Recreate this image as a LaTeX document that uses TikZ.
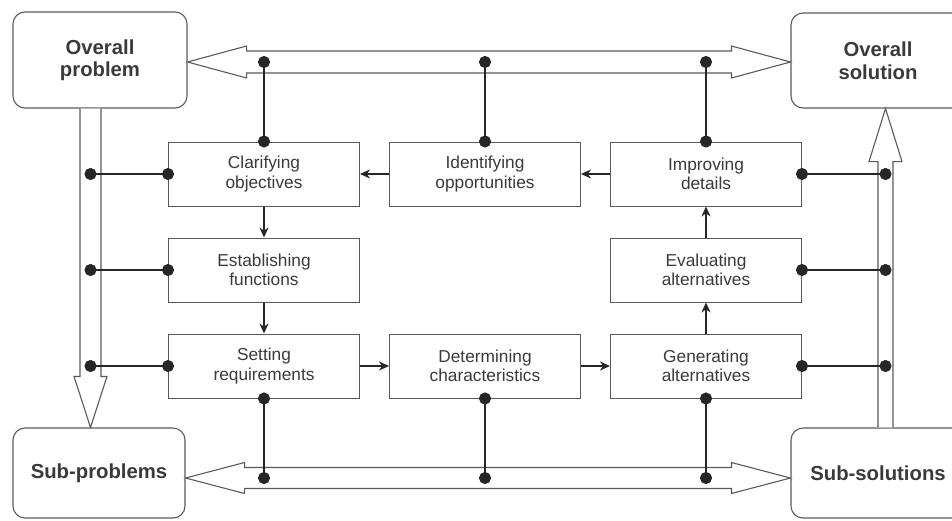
\documentclass[tikz,border=0pt]{standalone}
\usepackage{fontspec}
\setmainfont{Liberation Sans}
\usetikzlibrary{arrows.meta,calc}
\definecolor{boxc}{HTML}{5A5A5A}
\definecolor{txtc}{HTML}{3A3A3A}
\definecolor{linec}{HTML}{262626}
\tikzset{
  stage/.style={draw=boxc, line width=1pt, minimum width=191pt, minimum height=64pt, inner sep=0pt,
    align=center, text=txtc, font=\fontsize{17.3}{19.5}\selectfont},
  corner/.style={draw=boxc, line width=1.1pt, rounded corners=12pt, inner sep=0pt, align=center,
    text=txtc, font=\fontsize{20.3}{22.5}\selectfont\bfseries},
  hollow/.style={draw=boxc, line width=1.1pt, fill=white, line join=miter},
  dd/.style={draw=linec, line width=2pt, {Circle[length=12pt]}-{Circle[length=12pt]},
    shorten <=-6pt, shorten >=-6pt},
  flow/.style={draw=linec, line width=2pt, -{Stealth[length=10pt,width=9pt]}}
}
\begin{document}
\begin{tikzpicture}[x=1pt,y=-1pt]
\useasboundingbox (0,0) rectangle (952,520);
% corner boxes
\node[corner, minimum width=174pt, minimum height=96pt] (op) at (100,60) {Overall\\problem};
\node[corner, minimum width=174pt, minimum height=95pt] (os) at (878,60.5) {Overall\\solution};
\node[corner, minimum width=172pt, minimum height=90pt] (sp) at (99,473) {Sub-problems};
\node[corner, minimum width=174pt, minimum height=90pt] (ss) at (878,473) {Sub-solutions};
% stages
\node[stage] (cl) at (264,174) {Clarifying\\objectives};
\node[stage] (id) at (485,174) {Identifying\\opportunities};
\node[stage] (im) at (706,174) {Improving\\details};
\node[stage] (es) at (264,270) {Establishing\\functions};
\node[stage] (ev) at (706,270) {Evaluating\\alternatives};
\node[stage] (se) at (264,366) {Setting\\requirements};
\node[stage] (de) at (485,366) {Determining\\characteristics};
\node[stage] (ge) at (706,366) {Generating\\alternatives};
% reference coordinates for hollow arrows
\coordinate (ta) at (0,62);
\coordinate (ba) at (0,478);
\coordinate (la) at (90.5,0);
\coordinate (ra) at (885.5,0);
% top double hollow arrow
\draw[hollow] let \p1=(op.east |- ta), \p2=(os.west |- ta) in
  (\x1,\y1) -- (\x1+59pt,\y1+16pt) -- (\x1+59pt,\y1+11pt) -- (\x2-59pt,\y2+11pt) -- (\x2-59pt,\y2+16pt)
  -- (\x2,\y2) -- (\x2-59pt,\y2-16pt) -- (\x2-59pt,\y2-11pt) -- (\x1+59pt,\y1-11pt) -- (\x1+59pt,\y1-16pt) -- cycle;
% bottom double hollow arrow
\draw[hollow] let \p1=(sp.east |- ba), \p2=(ss.west |- ba) in
  (\x1,\y1) -- (\x1+59pt,\y1+15.5pt) -- (\x1+59pt,\y1+10.5pt) -- (\x2-59pt,\y2+10.5pt) -- (\x2-59pt,\y2+15.5pt)
  -- (\x2,\y2) -- (\x2-59pt,\y2-15.5pt) -- (\x2-59pt,\y2-10.5pt) -- (\x1+59pt,\y1-10.5pt) -- (\x1+59pt,\y1-15.5pt) -- cycle;
% left downward hollow arrow
\draw[hollow] let \p1=(la |- op.south), \p2=(la |- sp.north) in
  (\x1-10.5pt,\y1) -- (\x1-10.5pt,\y2+51pt) -- (\x1-16.5pt,\y2+51pt) -- (\x2,\y2)
  -- (\x1+16.5pt,\y2+51pt) -- (\x1+10.5pt,\y2+51pt) -- (\x1+10.5pt,\y1);
% right upward hollow arrow
\draw[hollow] let \p1=(ra |- ss.north), \p2=(ra |- os.south) in
  (\x1-7.5pt,\y1) -- (\x1-7.5pt,\y2-53pt) -- (\x1-16.5pt,\y2-53pt) -- (\x2,\y2)
  -- (\x1+16.5pt,\y2-53pt) -- (\x1+7.5pt,\y2-53pt) -- (\x1+7.5pt,\y1);
% dotted connectors to top arrow
\draw[dd] (cl.north) -- (cl.north |- ta);
\draw[dd] (id.north) -- (id.north |- ta);
\draw[dd] (im.north) -- (im.north |- ta);
% dotted connectors to bottom arrow
\draw[dd] (se.south) -- (se.south |- ba);
\draw[dd] (de.south) -- (de.south |- ba);
\draw[dd] (ge.south) -- (ge.south |- ba);
% dotted connectors to left arrow
\draw[dd] (cl.west) -- (cl.west -| la);
\draw[dd] (es.west) -- (es.west -| la);
\draw[dd] (se.west) -- (se.west -| la);
% dotted connectors to right arrow
\draw[dd] (im.east) -- (im.east -| ra);
\draw[dd] (ev.east) -- (ev.east -| ra);
\draw[dd] (ge.east) -- (ge.east -| ra);
% flow arrows
\draw[flow] (id.west) -- (cl.east);
\draw[flow] (im.west) -- (id.east);
\draw[flow] (cl.south) -- (es.north);
\draw[flow] (es.south) -- (se.north);
\draw[flow] (se.east) -- (de.west);
\draw[flow] (de.east) -- (ge.west);
\draw[flow] (ge.north) -- (ev.south);
\draw[flow] (ev.north) -- (im.south);
\end{tikzpicture}
\end{document}
